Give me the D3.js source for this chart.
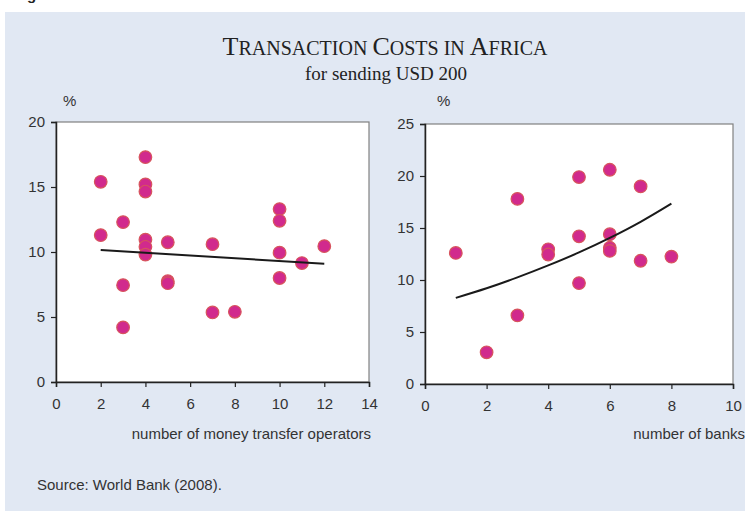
<!DOCTYPE html>
<html><head><meta charset="utf-8">
<script src="https://cdn.jsdelivr.net/npm/d3@7"></script>
<style>
body{margin:0;background:#fff;}
svg{display:block;}
text{font-family:"Liberation Sans",Arial,sans-serif;}
</style></head>
<body>
<svg id="c" width="745" height="511"></svg>
<script>
// ---- data ----
const mtoX = [2,2,3,3,3,4,4,4,4,4,4,5,5,5,7,7,8,10,10,10,10,11,12];
const mtoY = [15.4,11.3,12.3,7.45,4.2,17.3,15.2,14.65,10.95,10.4,9.8,10.75,7.75,7.6,10.6,5.35,5.4,13.3,12.4,9.95,8.0,9.15,10.45];
const mtoTrendX = [2,12];
const mtoTrendY = [10.15,9.1];
const bankX = [1,2,3,3,4,4,5,5,5,6,6,6,6,7,7,8];
const bankY = [12.6,3.05,17.8,6.6,12.95,12.45,19.9,14.2,9.7,20.6,14.4,13.1,12.8,19.0,11.85,12.25];
const bankTrendX = [1,2,3,4,5,6,7,8];
const bankTrendY = [8.28,9.2,10.25,11.4,12.65,14.05,15.6,17.35];
const leftXTicks = [0,2,4,6,8,10,12,14];
const leftYTicks = [0,5,10,15,20];
const rightXTicks = [0,2,4,6,8,10];
const rightYTicks = [0,5,10,15,20,25];

const svg = d3.select("#c");
svg.append("rect").attr("x",5).attr("y",12).attr("width",740).attr("height",499).attr("fill","#e1e8f3");
svg.append("text").attr("x",27).attr("y",0).attr("font-family","Liberation Serif").attr("font-size",15).attr("font-weight","bold").attr("fill","#222").text("g");

// title with small caps
const t = svg.append("text").attr("x",385).attr("y",55).attr("text-anchor","middle")
  .style("font-family","'Liberation Serif','Times New Roman',serif").attr("fill","#222");
[["T",26],["RANSACTION ",20],["C",26],["OSTS IN ",20],["A",26],["FRICA",20]].forEach(([s,f])=>{
  t.append("tspan").attr("font-size",f).text(s);
});
svg.append("text").attr("x",386).attr("y",80).attr("text-anchor","middle")
  .style("font-family","'Liberation Serif','Times New Roman',serif").attr("font-size",19).attr("fill","#222")
  .text("for sending USD 200");

function panel(cfg){
  const x = d3.scaleLinear().domain(cfg.xd).range(cfg.xr);
  const y = d3.scaleLinear().domain(cfg.yd).range(cfg.yr);
  const g = svg.append("g");
  g.append("rect").attr("x",cfg.xr[0]).attr("y",cfg.yr[1]).attr("width",cfg.xr[1]-cfg.xr[0])
    .attr("height",cfg.yr[0]-cfg.yr[1]).attr("fill","#fff").attr("stroke","#808080").attr("stroke-width",1.2);
  const ya = g.append("g").attr("transform",`translate(${cfg.xr[0]},0)`)
    .call(d3.axisLeft(y).tickValues(cfg.yt).tickSize(5).tickPadding(6).tickFormat(d3.format("d")));
  const xa = g.append("g").attr("transform",`translate(0,${cfg.yr[0]})`)
    .call(d3.axisBottom(x).tickValues(cfg.xt).tickSize(5).tickPadding(11).tickFormat(d3.format("d")));
  [ya,xa].forEach(a=>{
    a.selectAll("path").attr("stroke","#222").attr("stroke-width",1.5);
    a.selectAll("line").attr("stroke","#222").attr("stroke-width",1.2);
    a.selectAll("text").attr("font-size",15).attr("fill","#333").attr("font-family","Liberation Sans");
  });
  g.selectAll("circle").data(cfg.px.map((d,i)=>[d,cfg.py[i]])).enter().append("circle")
    .attr("cx",d=>x(d[0])).attr("cy",d=>y(d[1])).attr("r",6.3)
    .attr("fill","#d12a8d").attr("stroke","#d7545c").attr("stroke-width",1.2);
  const line = d3.line().x(d=>x(d[0])).y(d=>y(d[1])).curve(d3.curveMonotoneX);
  g.append("path").datum(cfg.tx.map((d,i)=>[d,cfg.ty[i]])).attr("d",line)
    .attr("fill","none").attr("stroke","#1a1a1a").attr("stroke-width",2);
  g.append("text").attr("x",cfg.pctX).attr("y",106).attr("font-size",15).attr("fill","#333").text("%");
  g.append("text").attr("x",cfg.labX).attr("y",439).attr("text-anchor","end").attr("font-size",15).attr("fill","#333").text(cfg.label);
}

panel({xd:[0,14],xr:[56,369],yd:[0,20],yr:[382,122],xt:leftXTicks,yt:leftYTicks,
  px:mtoX,py:mtoY,tx:mtoTrendX,ty:mtoTrendY,pctX:63,labX:371,label:"number of money transfer operators"});
panel({xd:[0,10],xr:[425,733],yd:[0,25],yr:[384,124],xt:rightXTicks,yt:rightYTicks,
  px:bankX,py:bankY,tx:bankTrendX,ty:bankTrendY,pctX:437,labX:745,label:"number of banks"});

svg.append("text").attr("x",37).attr("y",490).attr("font-size",15).attr("fill","#333").text("Source: World Bank (2008).");
</script>
</body></html>
